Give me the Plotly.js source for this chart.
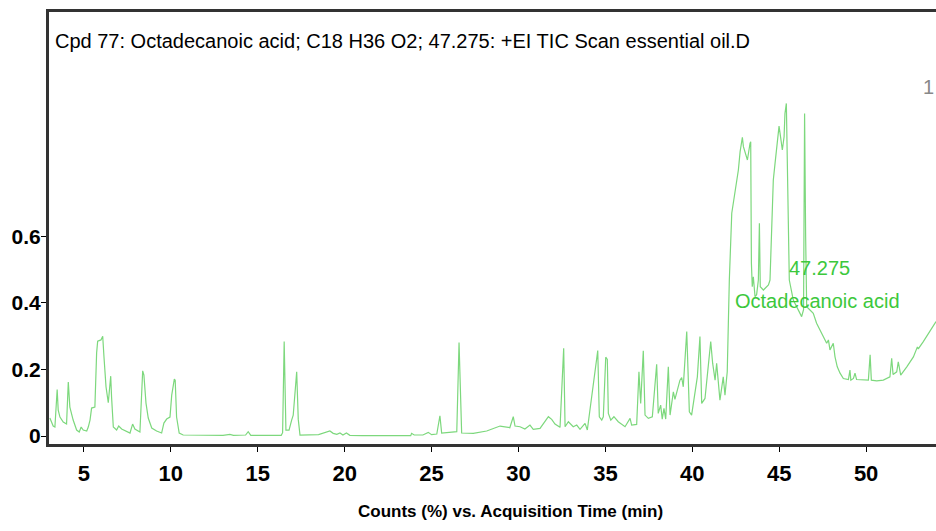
<!DOCTYPE html>
<html>
<head>
<meta charset="utf-8">
<script src="https://cdn.plot.ly/plotly-3.0.1.min.js"></script>
<style>html,body{margin:0;padding:0;background:#fff;}#chart{width:936px;height:531px;}</style>
</head>
<body>
<div id="chart"></div>
<script>
const times = [3.04,3.23,3.33,3.39,3.46,3.52,3.62,3.81,4.00,4.10,4.19,4.38,4.58,4.73,4.84,4.96,5.16,5.25,5.35,5.44,5.63,5.73,5.79,5.98,6.08,6.15,6.27,6.40,6.54,6.59,6.69,6.88,7.00,7.17,7.46,7.65,7.80,7.93,8.22,8.32,8.38,8.45,8.57,8.70,8.90,9.18,9.47,9.60,9.76,9.95,10.05,10.20,10.25,10.33,10.48,10.71,12.0,13.0,13.4,13.6,14.3,14.45,14.6,16.35,16.43,16.52,16.62,16.80,16.95,17.04,17.24,17.33,17.43,18.5,19.15,19.34,19.55,19.73,19.9,20.1,20.3,21.0,23.8,23.85,24.0,24.5,24.81,25.0,25.3,25.48,25.58,26.2,26.45,26.58,26.63,26.67,26.73,27.4,28.17,28.94,29.32,29.5,29.70,29.80,30.09,30.37,30.66,30.85,31.24,31.43,31.72,31.91,32.10,32.39,32.60,32.68,32.87,33.15,33.35,33.54,33.83,33.96,34.31,34.56,34.65,34.79,34.88,35.02,35.11,35.17,35.31,35.49,35.74,36.13,36.42,36.51,36.80,36.93,37.03,37.18,37.28,37.47,37.70,37.95,38.04,38.18,38.27,38.37,38.47,38.62,38.72,38.91,39.00,39.14,39.29,39.39,39.48,39.68,39.83,39.96,40.29,40.44,40.54,40.73,40.88,41.06,41.17,41.31,41.40,41.59,41.78,41.88,42.01,42.13,42.27,42.36,42.46,42.65,42.75,42.88,42.94,43.04,43.17,43.32,43.36,43.40,43.45,43.51,43.61,43.70,43.80,43.86,43.91,44.09,44.38,44.47,44.66,44.76,44.89,44.99,45.05,45.18,45.28,45.33,45.41,45.49,45.58,45.81,46.10,46.29,46.40,46.46,46.52,46.58,46.77,46.96,47.15,47.35,47.54,47.73,47.83,47.92,48.11,48.21,48.34,48.50,48.69,48.98,49.07,49.12,49.27,49.36,49.45,49.84,50.13,50.23,50.30,50.61,50.99,51.37,51.47,51.55,51.76,51.85,51.99,52.34,52.72,52.95,53.0,53.29,53.68,54.02];
const counts = [0.054,0.030,0.027,0.084,0.140,0.078,0.057,0.042,0.036,0.162,0.087,0.048,0.018,0.012,0.027,0.018,0.015,0.027,0.048,0.084,0.087,0.250,0.285,0.289,0.300,0.240,0.148,0.100,0.180,0.117,0.027,0.018,0.030,0.021,0.015,0.009,0.036,0.021,0.012,0.148,0.196,0.183,0.099,0.054,0.024,0.015,0.009,0.039,0.051,0.057,0.123,0.171,0.168,0.057,0.009,0.003,0.002,0.002,0.005,0.002,0.003,0.013,0.002,0.002,0.010,0.284,0.018,0.018,0.048,0.063,0.193,0.050,0.003,0.004,0.015,0.008,0.005,0.009,0.003,0.009,0.002,0.001,0.001,0.008,0.003,0.003,0.011,0.004,0.006,0.061,0.009,0.011,0.013,0.281,0.208,0.153,0.009,0.008,0.015,0.030,0.028,0.025,0.058,0.030,0.028,0.021,0.033,0.020,0.023,0.036,0.058,0.050,0.036,0.026,0.264,0.028,0.043,0.028,0.033,0.020,0.038,0.018,0.148,0.257,0.058,0.048,0.058,0.237,0.230,0.068,0.048,0.058,0.043,0.028,0.053,0.033,0.035,0.193,0.098,0.256,0.063,0.053,0.058,0.216,0.068,0.093,0.051,0.083,0.051,0.208,0.063,0.133,0.110,0.143,0.168,0.176,0.148,0.314,0.073,0.063,0.178,0.299,0.098,0.113,0.199,0.284,0.219,0.168,0.219,0.108,0.178,0.123,0.193,0.469,0.670,0.700,0.730,0.800,0.855,0.898,0.870,0.855,0.830,0.880,0.885,0.520,0.449,0.479,0.419,0.425,0.469,0.640,0.449,0.439,0.454,0.469,0.770,0.820,0.885,0.932,0.910,0.860,0.900,0.970,1.000,0.670,0.469,0.409,0.379,0.359,0.380,0.970,0.600,0.389,0.379,0.369,0.339,0.319,0.299,0.279,0.289,0.259,0.279,0.238,0.208,0.189,0.173,0.170,0.198,0.168,0.173,0.189,0.170,0.170,0.168,0.244,0.168,0.166,0.168,0.178,0.234,0.185,0.193,0.223,0.183,0.208,0.238,0.268,0.262,0.284,0.314,0.344];
const xTicks = [5,10,15,20,25,30,35,40,45,50];
const yTicks = [0,0.2,0.4,0.6];
const yTickText = ['0','0.2','0.4','0.6'];
const headerText = 'Cpd 77: Octadecanoic acid; C18 H36 O2; 47.275: +EI TIC Scan essential oil.D';
const xTitle = 'Counts (%) vs. Acquisition Time (min)';
const peakRT = '47.275';
const peakName = 'Octadecanoic acid';

const SANS = "'Liberation Sans', Arial, sans-serif";

const trace = {
  x: times, y: counts, type: 'scatter', mode: 'lines',
  line: {color: '#7dd87d', width: 1.2},
  hoverinfo: 'skip', showlegend: false
};

const layout = {
  width: 936, height: 531,
  margin: {l: 49, r: 0, t: 12, b: 87},
  paper_bgcolor: '#fff', plot_bgcolor: '#fff',
  xaxis: {
    range: [2.99, 54.02], tickvals: xTicks, ticks: 'outside', ticklen: 5, tickwidth: 1, tickcolor: '#000',
    showline: true, linewidth: 3, linecolor: '#333', mirror: true, showgrid: false, zeroline: false,
    ticklabelstandoff: 3,
    tickfont: {family: SANS, size: 22, color: '#000', weight: 'bold'}
  },
  yaxis: {
    range: [-0.024, 1.275], tickvals: yTicks, ticktext: yTickText, ticks: 'outside', ticklen: 5, tickwidth: 1, tickcolor: '#000',
    showline: true, linewidth: 3, linecolor: '#333', mirror: false, showgrid: false, zeroline: false,
    ticklabelstandoff: -4,
    tickfont: {family: SANS, size: 21, color: '#000', weight: 'bold'}
  },
  annotations: [
    {xref: 'paper', yref: 'paper', x: 0.004, y: 0.962, xanchor: 'left', yanchor: 'top', showarrow: false,
     text: headerText, font: {family: SANS, size: 20, color: '#000'}},
    {xref: 'paper', yref: 'paper', x: (510-49)/887, y: -0.157, xanchor: 'center', yanchor: 'middle', showarrow: false,
     text: xTitle, font: {family: SANS, size: 17, color: '#000', weight: 'bold'}},
    {xref: 'x', yref: 'y', x: 47.3, y: 0.505, xanchor: 'center', yanchor: 'middle', showarrow: false,
     text: peakRT, font: {family: SANS, size: 20, color: '#3cc83c'}},
    {xref: 'x', yref: 'y', x: 47.23, y: 0.406, xanchor: 'center', yanchor: 'middle', showarrow: false,
     text: peakName, font: {family: SANS, size: 20, color: '#3cc83c'}},
    {xref: 'paper', yref: 'paper', x: 1, y: 1-(87-12)/432, xanchor: 'right', yanchor: 'middle', showarrow: false,
     text: '1', font: {family: SANS, size: 20, color: '#888'}}
  ]
};

Plotly.newPlot('chart', [trace], layout, {staticPlot: true, displayModeBar: false});
</script>
</body>
</html>
